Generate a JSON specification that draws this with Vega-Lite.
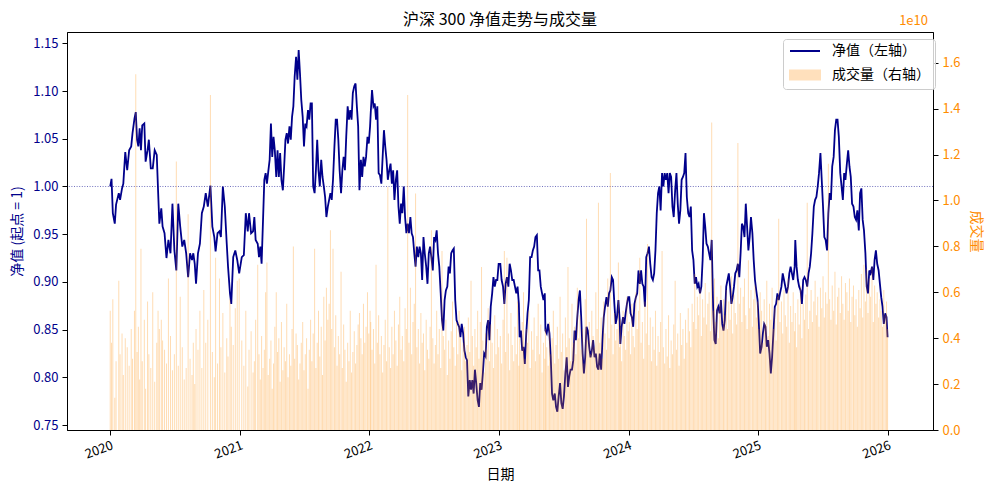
{
  "$schema": "https://vega.github.io/schema/vega-lite/v6.json",
  "description": "沪深 300 净值走势与成交量",
  "width": 866,
  "height": 398,
  "autosize": {"type": "none"},
  "padding": {"left": 67, "top": 32, "right": 56, "bottom": 59},
  "title": {"text": "沪深 300 净值走势与成交量", "fontSize": 16, "fontWeight": "normal", "color": "black", "anchor": "middle", "offset": -13},
  "config": {
    "font": "Noto Sans CJK SC",
    "view": {"stroke": "black", "strokeWidth": 1},
    "axis": {"grid": false, "domainColor": "black", "tickColor": "black", "tickSize": 5, "labelPadding": 4, "labelFontSize": 13, "titleFontSize": 14, "titleFontWeight": "normal"}
  },
  "data": {
    "values": [
      {"t":2020.000,"v":1.000,"q":0.52},{"t":2020.010,"v":1.008,"q":0.38},{"t":2020.020,"v":0.972,"q":0.57},{"t":2020.035,"v":0.961,"q":0.14},{"t":2020.045,"v":0.981,"q":0.30},{"t":2020.066,"v":0.993,"q":0.65},{"t":2020.076,"v":0.986,"q":0.33},{"t":2020.091,"v":0.998,"q":0.42},{"t":2020.101,"v":1.003,"q":0.24},{"t":2020.116,"v":1.036,"q":0.40},{"t":2020.131,"v":1.017,"q":0.36},{"t":2020.146,"v":1.038,"q":0.28},{"t":2020.162,"v":1.042,"q":0.44},{"t":2020.172,"v":1.056,"q":0.31},{"t":2020.187,"v":1.071,"q":0.52},{"t":2020.197,"v":1.078,"q":1.55},{"t":2020.207,"v":1.049,"q":0.34},{"t":2020.217,"v":1.042,"q":0.45},{"t":2020.227,"v":1.061,"q":0.22},{"t":2020.237,"v":1.038,"q":0.79},{"t":2020.247,"v":1.064,"q":0.30},{"t":2020.263,"v":1.066,"q":0.48},{"t":2020.273,"v":1.026,"q":0.18},{"t":2020.288,"v":1.038,"q":0.56},{"t":2020.298,"v":1.049,"q":0.33},{"t":2020.313,"v":1.019,"q":0.27},{"t":2020.328,"v":1.019,"q":0.60},{"t":2020.343,"v":1.038,"q":0.21},{"t":2020.359,"v":1.033,"q":0.38},{"t":2020.369,"v":0.996,"q":0.52},{"t":2020.379,"v":0.961,"q":0.44},{"t":2020.394,"v":0.977,"q":0.48},{"t":2020.404,"v":0.958,"q":0.39},{"t":2020.419,"v":0.951,"q":0.35},{"t":2020.434,"v":0.925,"q":0.29},{"t":2020.449,"v":0.944,"q":0.66},{"t":2020.465,"v":0.930,"q":0.41},{"t":2020.480,"v":0.982,"q":0.26},{"t":2020.495,"v":0.933,"q":0.33},{"t":2020.510,"v":0.912,"q":1.17},{"t":2020.525,"v":0.982,"q":0.28},{"t":2020.540,"v":0.958,"q":0.58},{"t":2020.556,"v":0.937,"q":0.36},{"t":2020.571,"v":0.944,"q":0.22},{"t":2020.586,"v":0.930,"q":0.27},{"t":2020.601,"v":0.905,"q":0.94},{"t":2020.616,"v":0.930,"q":0.31},{"t":2020.631,"v":0.923,"q":0.24},{"t":2020.641,"v":0.930,"q":0.38},{"t":2020.652,"v":0.919,"q":0.20},{"t":2020.662,"v":0.898,"q":0.44},{"t":2020.677,"v":0.930,"q":0.35},{"t":2020.692,"v":0.940,"q":0.52},{"t":2020.707,"v":0.972,"q":0.27},{"t":2020.722,"v":0.979,"q":0.61},{"t":2020.737,"v":0.993,"q":0.38},{"t":2020.753,"v":0.979,"q":0.48},{"t":2020.773,"v":1.001,"q":1.46},{"t":2020.788,"v":0.958,"q":0.34},{"t":2020.803,"v":0.947,"q":0.23},{"t":2020.813,"v":0.932,"q":0.75},{"t":2020.828,"v":0.951,"q":0.29},{"t":2020.843,"v":0.953,"q":0.66},{"t":2020.854,"v":0.947,"q":0.36},{"t":2020.869,"v":1.000,"q":0.51},{"t":2020.884,"v":0.979,"q":0.25},{"t":2020.899,"v":0.940,"q":0.40},{"t":2020.909,"v":0.916,"q":0.32},{"t":2020.924,"v":0.888,"q":0.57},{"t":2020.934,"v":0.877,"q":0.45},{"t":2020.949,"v":0.926,"q":0.37},{"t":2020.965,"v":0.933,"q":0.53},{"t":2020.980,"v":0.923,"q":0.65},{"t":2020.995,"v":0.909,"q":0.66},
      {"t":2021.015,"v":0.926,"q":0.39},{"t":2021.031,"v":0.928,"q":0.28},{"t":2021.046,"v":0.972,"q":0.52},{"t":2021.061,"v":0.953,"q":0.19},{"t":2021.071,"v":0.972,"q":0.35},{"t":2021.087,"v":0.951,"q":0.43},{"t":2021.102,"v":0.953,"q":0.25},{"t":2021.112,"v":0.968,"q":0.30},{"t":2021.122,"v":0.944,"q":0.48},{"t":2021.138,"v":0.940,"q":0.72},{"t":2021.148,"v":0.926,"q":0.33},{"t":2021.158,"v":0.937,"q":0.22},{"t":2021.168,"v":0.919,"q":0.41},{"t":2021.179,"v":0.965,"q":0.27},{"t":2021.189,"v":1.007,"q":0.35},{"t":2021.199,"v":1.014,"q":0.60},{"t":2021.209,"v":1.003,"q":0.73},{"t":2021.219,"v":1.015,"q":0.24},{"t":2021.230,"v":1.028,"q":0.31},{"t":2021.240,"v":1.066,"q":0.39},{"t":2021.250,"v":1.031,"q":0.18},{"t":2021.260,"v":1.052,"q":0.29},{"t":2021.270,"v":1.038,"q":0.45},{"t":2021.281,"v":1.010,"q":0.60},{"t":2021.291,"v":1.038,"q":0.34},{"t":2021.301,"v":1.010,"q":0.40},{"t":2021.311,"v":1.035,"q":0.21},{"t":2021.321,"v":1.007,"q":0.47},{"t":2021.332,"v":0.996,"q":0.26},{"t":2021.342,"v":1.021,"q":0.36},{"t":2021.352,"v":1.049,"q":0.30},{"t":2021.362,"v":1.056,"q":0.55},{"t":2021.372,"v":1.045,"q":0.23},{"t":2021.383,"v":1.063,"q":0.33},{"t":2021.393,"v":1.049,"q":0.28},{"t":2021.403,"v":1.073,"q":0.44},{"t":2021.413,"v":1.084,"q":0.80},{"t":2021.423,"v":1.115,"q":0.31},{"t":2021.434,"v":1.136,"q":0.42},{"t":2021.444,"v":1.112,"q":0.37},{"t":2021.454,"v":1.143,"q":0.22},{"t":2021.464,"v":1.119,"q":0.29},{"t":2021.474,"v":1.091,"q":0.38},{"t":2021.485,"v":1.073,"q":0.47},{"t":2021.495,"v":1.042,"q":0.26},{"t":2021.505,"v":1.066,"q":0.33},{"t":2021.515,"v":1.063,"q":0.40},{"t":2021.526,"v":1.080,"q":0.18},{"t":2021.536,"v":1.070,"q":0.35},{"t":2021.546,"v":1.087,"q":0.48},{"t":2021.556,"v":1.087,"q":0.30},{"t":2021.566,"v":1.000,"q":0.42},{"t":2021.577,"v":0.993,"q":0.79},{"t":2021.587,"v":1.017,"q":0.27},{"t":2021.597,"v":1.049,"q":0.38},{"t":2021.607,"v":1.017,"q":0.52},{"t":2021.617,"v":1.000,"q":0.32},{"t":2021.628,"v":1.028,"q":0.45},{"t":2021.638,"v":1.010,"q":0.24},{"t":2021.648,"v":1.000,"q":0.58},{"t":2021.658,"v":0.989,"q":0.39},{"t":2021.668,"v":0.968,"q":0.62},{"t":2021.679,"v":0.979,"q":0.48},{"t":2021.689,"v":0.986,"q":0.55},{"t":2021.699,"v":0.993,"q":0.87},{"t":2021.709,"v":0.986,"q":0.44},{"t":2021.719,"v":1.007,"q":0.79},{"t":2021.730,"v":1.042,"q":0.36},{"t":2021.740,"v":1.070,"q":0.50},{"t":2021.750,"v":1.070,"q":0.28},{"t":2021.760,"v":1.049,"q":0.41},{"t":2021.770,"v":1.017,"q":0.33},{"t":2021.781,"v":0.993,"q":0.69},{"t":2021.791,"v":1.017,"q":0.27},{"t":2021.801,"v":1.031,"q":0.46},{"t":2021.811,"v":1.017,"q":0.35},{"t":2021.821,"v":1.052,"q":0.21},{"t":2021.832,"v":1.084,"q":0.38},{"t":2021.842,"v":1.070,"q":0.30},{"t":2021.852,"v":1.080,"q":0.52},{"t":2021.862,"v":1.070,"q":0.25},{"t":2021.872,"v":1.098,"q":0.34},{"t":2021.883,"v":1.105,"q":0.43},{"t":2021.893,"v":1.108,"q":0.29},{"t":2021.903,"v":1.084,"q":0.37},{"t":2021.913,"v":1.063,"q":0.46},{"t":2021.923,"v":0.996,"q":0.51},{"t":2021.934,"v":1.028,"q":0.40},{"t":2021.944,"v":1.010,"q":0.33},{"t":2021.954,"v":1.031,"q":0.55},{"t":2021.964,"v":1.021,"q":0.38},{"t":2021.974,"v":1.031,"q":0.45},{"t":2021.985,"v":1.052,"q":0.60},{"t":2021.995,"v":1.045,"q":0.42},
      {"t":2022.005,"v":1.063,"q":0.52},{"t":2022.010,"v":1.077,"q":0.47},{"t":2022.020,"v":1.101,"q":0.35},{"t":2022.031,"v":1.084,"q":0.44},{"t":2022.041,"v":1.087,"q":0.29},{"t":2022.051,"v":1.070,"q":0.72},{"t":2022.061,"v":1.084,"q":0.38},{"t":2022.071,"v":1.014,"q":0.50},{"t":2022.081,"v":1.012,"q":0.33},{"t":2022.092,"v":1.003,"q":0.41},{"t":2022.102,"v":1.031,"q":0.25},{"t":2022.112,"v":1.059,"q":0.37},{"t":2022.122,"v":1.042,"q":0.48},{"t":2022.132,"v":1.028,"q":0.30},{"t":2022.142,"v":1.007,"q":1.06},{"t":2022.153,"v":1.017,"q":0.36},{"t":2022.163,"v":1.024,"q":0.27},{"t":2022.173,"v":1.003,"q":0.45},{"t":2022.183,"v":1.017,"q":0.33},{"t":2022.193,"v":0.986,"q":0.52},{"t":2022.204,"v":1.007,"q":0.39},{"t":2022.214,"v":1.017,"q":0.28},{"t":2022.224,"v":0.979,"q":0.46},{"t":2022.234,"v":0.961,"q":0.58},{"t":2022.244,"v":0.982,"q":0.35},{"t":2022.254,"v":0.972,"q":0.41},{"t":2022.265,"v":1.000,"q":0.30},{"t":2022.275,"v":0.968,"q":0.53},{"t":2022.285,"v":0.951,"q":0.44},{"t":2022.295,"v":0.961,"q":1.46},{"t":2022.305,"v":0.951,"q":0.38},{"t":2022.316,"v":0.968,"q":0.62},{"t":2022.326,"v":0.951,"q":0.33},{"t":2022.336,"v":0.947,"q":0.47},{"t":2022.346,"v":0.930,"q":0.55},{"t":2022.356,"v":0.916,"q":1.03},{"t":2022.366,"v":0.937,"q":0.36},{"t":2022.377,"v":0.926,"q":0.44},{"t":2022.387,"v":0.937,"q":0.29},{"t":2022.397,"v":0.930,"q":0.51},{"t":2022.407,"v":0.902,"q":0.38},{"t":2022.417,"v":0.947,"q":0.42},{"t":2022.427,"v":0.930,"q":0.26},{"t":2022.438,"v":0.916,"q":0.48},{"t":2022.448,"v":0.898,"q":0.35},{"t":2022.458,"v":0.930,"q":0.31},{"t":2022.468,"v":0.937,"q":0.45},{"t":2022.478,"v":0.926,"q":0.87},{"t":2022.489,"v":0.912,"q":0.40},{"t":2022.499,"v":0.947,"q":0.29},{"t":2022.509,"v":0.944,"q":0.37},{"t":2022.519,"v":0.954,"q":0.52},{"t":2022.529,"v":0.930,"q":0.33},{"t":2022.539,"v":0.916,"q":0.44},{"t":2022.550,"v":0.888,"q":0.27},{"t":2022.560,"v":0.860,"q":0.78},{"t":2022.570,"v":0.849,"q":0.41},{"t":2022.580,"v":0.881,"q":0.35},{"t":2022.590,"v":0.891,"q":0.48},{"t":2022.601,"v":0.895,"q":0.24},{"t":2022.611,"v":0.916,"q":0.39},{"t":2022.621,"v":0.909,"q":0.31},{"t":2022.631,"v":0.930,"q":0.43},{"t":2022.641,"v":0.933,"q":0.56},{"t":2022.651,"v":0.935,"q":0.36},{"t":2022.662,"v":0.881,"q":0.28},{"t":2022.672,"v":0.860,"q":0.47},{"t":2022.682,"v":0.856,"q":0.33},{"t":2022.692,"v":0.853,"q":0.52},{"t":2022.702,"v":0.842,"q":0.40},{"t":2022.712,"v":0.856,"q":0.26},{"t":2022.723,"v":0.846,"q":0.38},{"t":2022.733,"v":0.828,"q":0.45},{"t":2022.743,"v":0.821,"q":0.30},{"t":2022.753,"v":0.818,"q":0.37},{"t":2022.763,"v":0.780,"q":0.49},{"t":2022.774,"v":0.797,"q":0.34},{"t":2022.784,"v":0.787,"q":0.65},{"t":2022.794,"v":0.797,"q":0.41},{"t":2022.804,"v":0.783,"q":0.28},{"t":2022.814,"v":0.808,"q":0.44},{"t":2022.824,"v":0.794,"q":0.36},{"t":2022.835,"v":0.776,"q":0.52},{"t":2022.845,"v":0.769,"q":0.31},{"t":2022.855,"v":0.794,"q":0.47},{"t":2022.865,"v":0.787,"q":0.71},{"t":2022.875,"v":0.804,"q":0.39},{"t":2022.885,"v":0.825,"q":0.25},{"t":2022.896,"v":0.822,"q":0.42},{"t":2022.906,"v":0.853,"q":0.35},{"t":2022.916,"v":0.860,"q":0.53},{"t":2022.926,"v":0.839,"q":0.30},{"t":2022.936,"v":0.874,"q":0.46},{"t":2022.947,"v":0.888,"q":0.38},{"t":2022.957,"v":0.905,"q":0.27},{"t":2022.967,"v":0.895,"q":0.50},{"t":2022.977,"v":0.902,"q":0.33},{"t":2022.987,"v":0.902,"q":0.44},{"t":2022.997,"v":0.919,"q":0.36},
      {"t":2023.010,"v":0.919,"q":0.41},{"t":2023.020,"v":0.902,"q":0.29},{"t":2023.031,"v":0.895,"q":0.48},{"t":2023.041,"v":0.877,"q":0.78},{"t":2023.051,"v":0.898,"q":0.34},{"t":2023.061,"v":0.905,"q":0.75},{"t":2023.072,"v":0.895,"q":0.42},{"t":2023.082,"v":0.919,"q":0.26},{"t":2023.092,"v":0.912,"q":0.51},{"t":2023.102,"v":0.902,"q":0.37},{"t":2023.113,"v":0.902,"q":0.30},{"t":2023.123,"v":0.895,"q":0.45},{"t":2023.133,"v":0.888,"q":0.33},{"t":2023.143,"v":0.895,"q":0.56},{"t":2023.153,"v":0.877,"q":0.28},{"t":2023.159,"v":0.842,"q":0.40},{"t":2023.169,"v":0.849,"q":0.35},{"t":2023.179,"v":0.828,"q":0.47},{"t":2023.189,"v":0.832,"q":0.60},{"t":2023.199,"v":0.814,"q":0.31},{"t":2023.210,"v":0.846,"q":0.44},{"t":2023.220,"v":0.867,"q":0.38},{"t":2023.230,"v":0.881,"q":0.52},{"t":2023.240,"v":0.926,"q":0.27},{"t":2023.251,"v":0.926,"q":0.43},{"t":2023.261,"v":0.933,"q":0.35},{"t":2023.271,"v":0.937,"q":0.49},{"t":2023.281,"v":0.947,"q":0.30},{"t":2023.292,"v":0.949,"q":0.41},{"t":2023.302,"v":0.912,"q":0.55},{"t":2023.312,"v":0.912,"q":0.33},{"t":2023.322,"v":0.895,"q":0.46},{"t":2023.332,"v":0.888,"q":0.25},{"t":2023.343,"v":0.881,"q":0.38},{"t":2023.353,"v":0.888,"q":0.31},{"t":2023.358,"v":0.849,"q":0.44},{"t":2023.368,"v":0.846,"q":0.36},{"t":2023.379,"v":0.856,"q":0.28},{"t":2023.389,"v":0.846,"q":0.47},{"t":2023.399,"v":0.821,"q":0.33},{"t":2023.409,"v":0.783,"q":0.40},{"t":2023.419,"v":0.776,"q":0.52},{"t":2023.430,"v":0.783,"q":0.29},{"t":2023.440,"v":0.769,"q":0.37},{"t":2023.450,"v":0.764,"q":0.45},{"t":2023.460,"v":0.780,"q":0.31},{"t":2023.471,"v":0.794,"q":0.58},{"t":2023.481,"v":0.773,"q":0.34},{"t":2023.491,"v":0.767,"q":0.42},{"t":2023.501,"v":0.780,"q":0.26},{"t":2023.512,"v":0.804,"q":0.49},{"t":2023.522,"v":0.821,"q":0.36},{"t":2023.532,"v":0.790,"q":0.71},{"t":2023.542,"v":0.801,"q":0.40},{"t":2023.552,"v":0.808,"q":0.30},{"t":2023.563,"v":0.808,"q":0.55},{"t":2023.573,"v":0.818,"q":0.38},{"t":2023.583,"v":0.849,"q":0.45},{"t":2023.593,"v":0.839,"q":0.33},{"t":2023.604,"v":0.863,"q":0.62},{"t":2023.614,"v":0.881,"q":0.40},{"t":2023.624,"v":0.891,"q":0.50},{"t":2023.634,"v":0.863,"q":0.35},{"t":2023.645,"v":0.825,"q":0.44},{"t":2023.655,"v":0.804,"q":0.29},{"t":2023.665,"v":0.821,"q":0.57},{"t":2023.675,"v":0.853,"q":0.92},{"t":2023.685,"v":0.849,"q":0.39},{"t":2023.696,"v":0.832,"q":0.47},{"t":2023.706,"v":0.821,"q":0.33},{"t":2023.716,"v":0.828,"q":0.52},{"t":2023.726,"v":0.839,"q":0.41},{"t":2023.737,"v":0.821,"q":0.36},{"t":2023.747,"v":0.825,"q":0.60},{"t":2023.757,"v":0.811,"q":0.44},{"t":2023.767,"v":0.808,"q":0.99},{"t":2023.777,"v":0.825,"q":0.38},{"t":2023.788,"v":0.808,"q":0.49},{"t":2023.798,"v":0.839,"q":0.31},{"t":2023.808,"v":0.863,"q":0.56},{"t":2023.818,"v":0.874,"q":0.42},{"t":2023.829,"v":0.884,"q":0.35},{"t":2023.839,"v":0.874,"q":0.66},{"t":2023.849,"v":0.888,"q":0.40},{"t":2023.859,"v":0.891,"q":1.12},{"t":2023.870,"v":0.905,"q":0.46},{"t":2023.880,"v":0.902,"q":0.33},{"t":2023.890,"v":0.877,"q":0.51},{"t":2023.900,"v":0.856,"q":0.39},{"t":2023.910,"v":0.863,"q":0.44},{"t":2023.921,"v":0.881,"q":0.73},{"t":2023.931,"v":0.860,"q":0.36},{"t":2023.936,"v":0.835,"q":0.48},{"t":2023.946,"v":0.853,"q":0.30},{"t":2023.957,"v":0.863,"q":0.52},{"t":2023.967,"v":0.856,"q":0.41},{"t":2023.977,"v":0.867,"q":0.35},{"t":2023.987,"v":0.877,"q":0.58},{"t":2023.997,"v":0.884,"q":0.43},
      {"t":2024.005,"v":0.884,"q":0.47},{"t":2024.015,"v":0.867,"q":0.33},{"t":2024.025,"v":0.863,"q":0.55},{"t":2024.035,"v":0.853,"q":0.41},{"t":2024.045,"v":0.877,"q":0.36},{"t":2024.056,"v":0.884,"q":0.60},{"t":2024.066,"v":0.888,"q":0.44},{"t":2024.076,"v":0.912,"q":0.52},{"t":2024.086,"v":0.898,"q":0.75},{"t":2024.096,"v":0.912,"q":0.38},{"t":2024.106,"v":0.898,"q":0.47},{"t":2024.116,"v":0.895,"q":0.31},{"t":2024.126,"v":0.874,"q":0.56},{"t":2024.136,"v":0.926,"q":0.42},{"t":2024.146,"v":0.930,"q":0.81},{"t":2024.157,"v":0.937,"q":0.37},{"t":2024.167,"v":0.919,"q":0.49},{"t":2024.177,"v":0.905,"q":0.30},{"t":2024.187,"v":0.902,"q":0.45},{"t":2024.197,"v":0.909,"q":0.35},{"t":2024.207,"v":0.933,"q":0.52},{"t":2024.217,"v":0.972,"q":0.28},{"t":2024.227,"v":0.993,"q":0.41},{"t":2024.237,"v":1.000,"q":0.34},{"t":2024.247,"v":0.975,"q":0.47},{"t":2024.258,"v":1.014,"q":0.78},{"t":2024.268,"v":1.000,"q":0.36},{"t":2024.278,"v":1.014,"q":0.29},{"t":2024.288,"v":1.007,"q":0.44},{"t":2024.298,"v":1.014,"q":0.32},{"t":2024.308,"v":0.993,"q":0.50},{"t":2024.318,"v":1.014,"q":0.27},{"t":2024.328,"v":1.010,"q":0.39},{"t":2024.338,"v":0.979,"q":0.33},{"t":2024.348,"v":0.968,"q":0.46},{"t":2024.359,"v":0.996,"q":0.65},{"t":2024.369,"v":1.014,"q":0.35},{"t":2024.379,"v":0.982,"q":0.42},{"t":2024.389,"v":0.961,"q":0.28},{"t":2024.399,"v":0.975,"q":0.51},{"t":2024.409,"v":1.007,"q":0.37},{"t":2024.419,"v":1.010,"q":0.44},{"t":2024.429,"v":1.014,"q":0.31},{"t":2024.439,"v":1.035,"q":0.48},{"t":2024.449,"v":0.989,"q":0.38},{"t":2024.460,"v":0.972,"q":0.53},{"t":2024.470,"v":0.968,"q":0.43},{"t":2024.480,"v":0.979,"q":0.36},{"t":2024.490,"v":0.933,"q":0.55},{"t":2024.500,"v":0.923,"q":0.47},{"t":2024.510,"v":0.898,"q":0.68},{"t":2024.520,"v":0.905,"q":0.44},{"t":2024.530,"v":0.895,"q":0.58},{"t":2024.540,"v":0.898,"q":0.50},{"t":2024.551,"v":0.888,"q":0.62},{"t":2024.561,"v":0.895,"q":0.41},{"t":2024.571,"v":0.923,"q":0.57},{"t":2024.581,"v":0.972,"q":0.49},{"t":2024.591,"v":0.958,"q":0.64},{"t":2024.601,"v":0.940,"q":0.46},{"t":2024.611,"v":0.937,"q":0.55},{"t":2024.621,"v":0.930,"q":0.60},{"t":2024.631,"v":0.923,"q":0.43},{"t":2024.641,"v":0.944,"q":1.34},{"t":2024.652,"v":0.874,"q":0.52},{"t":2024.662,"v":0.839,"q":0.66},{"t":2024.672,"v":0.835,"q":0.47},{"t":2024.682,"v":0.870,"q":0.58},{"t":2024.692,"v":0.874,"q":0.40},{"t":2024.702,"v":0.867,"q":0.54},{"t":2024.712,"v":0.881,"q":0.63},{"t":2024.722,"v":0.856,"q":0.45},{"t":2024.732,"v":0.849,"q":0.57},{"t":2024.742,"v":0.860,"q":0.50},{"t":2024.753,"v":0.895,"q":0.61},{"t":2024.763,"v":0.902,"q":0.44},{"t":2024.773,"v":0.909,"q":0.56},{"t":2024.783,"v":0.895,"q":0.48},{"t":2024.793,"v":0.877,"q":0.67},{"t":2024.803,"v":0.884,"q":0.42},{"t":2024.813,"v":0.895,"q":0.59},{"t":2024.823,"v":0.909,"q":0.51},{"t":2024.833,"v":0.912,"q":0.46},{"t":2024.843,"v":0.919,"q":1.25},{"t":2024.854,"v":0.905,"q":0.55},{"t":2024.864,"v":0.930,"q":0.62},{"t":2024.874,"v":0.961,"q":0.47},{"t":2024.884,"v":0.958,"q":0.58},{"t":2024.894,"v":0.947,"q":0.66},{"t":2024.904,"v":0.982,"q":0.50},{"t":2024.914,"v":0.958,"q":0.44},{"t":2024.924,"v":0.933,"q":0.74},{"t":2024.934,"v":0.947,"q":0.53},{"t":2024.944,"v":0.968,"q":0.61},{"t":2024.955,"v":0.951,"q":0.45},{"t":2024.965,"v":0.923,"q":0.57},{"t":2024.975,"v":0.902,"q":0.63},{"t":2024.985,"v":0.891,"q":0.49},{"t":2024.995,"v":0.881,"q":0.56},
      {"t":2025.005,"v":0.856,"q":0.44},{"t":2025.015,"v":0.825,"q":0.60},{"t":2025.026,"v":0.832,"q":0.52},{"t":2025.036,"v":0.846,"q":0.38},{"t":2025.046,"v":0.856,"q":0.57},{"t":2025.056,"v":0.853,"q":0.46},{"t":2025.066,"v":0.832,"q":0.65},{"t":2025.077,"v":0.839,"q":0.41},{"t":2025.087,"v":0.825,"q":0.55},{"t":2025.097,"v":0.804,"q":0.48},{"t":2025.107,"v":0.821,"q":0.62},{"t":2025.117,"v":0.846,"q":0.44},{"t":2025.128,"v":0.874,"q":0.53},{"t":2025.138,"v":0.877,"q":0.39},{"t":2025.148,"v":0.888,"q":0.58},{"t":2025.158,"v":0.881,"q":0.92},{"t":2025.168,"v":0.888,"q":0.47},{"t":2025.179,"v":0.895,"q":0.56},{"t":2025.189,"v":0.909,"q":0.42},{"t":2025.199,"v":0.902,"q":0.61},{"t":2025.209,"v":0.895,"q":0.50},{"t":2025.219,"v":0.888,"q":0.45},{"t":2025.230,"v":0.895,"q":0.66},{"t":2025.240,"v":0.909,"q":0.38},{"t":2025.250,"v":0.916,"q":0.54},{"t":2025.260,"v":0.909,"q":0.47},{"t":2025.270,"v":0.902,"q":0.60},{"t":2025.281,"v":0.916,"q":0.43},{"t":2025.286,"v":0.944,"q":0.51},{"t":2025.296,"v":0.916,"q":0.36},{"t":2025.306,"v":0.902,"q":0.57},{"t":2025.316,"v":0.895,"q":0.46},{"t":2025.327,"v":0.891,"q":0.63},{"t":2025.337,"v":0.877,"q":0.40},{"t":2025.347,"v":0.902,"q":0.55},{"t":2025.357,"v":0.905,"q":0.48},{"t":2025.367,"v":0.902,"q":0.59},{"t":2025.378,"v":0.895,"q":0.99},{"t":2025.388,"v":0.909,"q":0.44},{"t":2025.398,"v":0.916,"q":0.52},{"t":2025.408,"v":0.930,"q":0.61},{"t":2025.418,"v":0.951,"q":0.47},{"t":2025.429,"v":0.979,"q":0.56},{"t":2025.439,"v":0.986,"q":0.65},{"t":2025.449,"v":0.989,"q":0.50},{"t":2025.459,"v":1.000,"q":0.58},{"t":2025.469,"v":1.014,"q":0.45},{"t":2025.480,"v":1.035,"q":0.62},{"t":2025.490,"v":1.007,"q":0.53},{"t":2025.500,"v":0.979,"q":0.67},{"t":2025.510,"v":0.947,"q":0.49},{"t":2025.520,"v":0.944,"q":0.60},{"t":2025.531,"v":0.933,"q":0.55},{"t":2025.541,"v":0.972,"q":1.16},{"t":2025.551,"v":0.993,"q":0.57},{"t":2025.561,"v":0.986,"q":0.48},{"t":2025.571,"v":1.021,"q":0.63},{"t":2025.582,"v":1.031,"q":0.52},{"t":2025.592,"v":1.059,"q":0.69},{"t":2025.602,"v":1.070,"q":0.46},{"t":2025.612,"v":1.070,"q":0.58},{"t":2025.622,"v":1.052,"q":0.62},{"t":2025.633,"v":1.014,"q":0.51},{"t":2025.643,"v":1.000,"q":0.67},{"t":2025.653,"v":0.986,"q":0.55},{"t":2025.663,"v":1.014,"q":0.48},{"t":2025.673,"v":1.007,"q":0.64},{"t":2025.684,"v":1.024,"q":0.60},{"t":2025.694,"v":1.038,"q":0.52},{"t":2025.704,"v":1.021,"q":0.66},{"t":2025.714,"v":1.010,"q":0.47},{"t":2025.724,"v":0.982,"q":0.58},{"t":2025.735,"v":0.979,"q":0.63},{"t":2025.745,"v":0.968,"q":0.50},{"t":2025.755,"v":0.965,"q":0.57},{"t":2025.765,"v":0.975,"q":0.45},{"t":2025.776,"v":0.954,"q":0.61},{"t":2025.786,"v":0.993,"q":0.53},{"t":2025.796,"v":0.998,"q":0.68},{"t":2025.806,"v":0.965,"q":0.49},{"t":2025.816,"v":0.954,"q":0.72},{"t":2025.827,"v":0.930,"q":0.56},{"t":2025.837,"v":0.895,"q":0.70},{"t":2025.847,"v":0.888,"q":0.51},{"t":2025.857,"v":0.912,"q":0.66},{"t":2025.867,"v":0.909,"q":0.58},{"t":2025.878,"v":0.916,"q":0.71},{"t":2025.888,"v":0.902,"q":0.47},{"t":2025.898,"v":0.923,"q":0.63},{"t":2025.908,"v":0.933,"q":0.55},{"t":2025.918,"v":0.919,"q":0.60},{"t":2025.929,"v":0.912,"q":0.49},{"t":2025.939,"v":0.898,"q":0.57},{"t":2025.949,"v":0.884,"q":0.52},{"t":2025.959,"v":0.874,"q":0.45},{"t":2025.969,"v":0.856,"q":0.61},{"t":2025.980,"v":0.867,"q":0.50},{"t":2025.990,"v":0.863,"q":0.56},{"t":2025.998,"v":0.842,"q":0.44}
    ]
  },
  "layer": [
    {
      "layer": [
        {
          "data": {"values": [{"ref": 1}]},
          "mark": {"type": "rule", "color": "#00008B", "strokeWidth": 0.8, "strokeDash": [1, 1.6], "opacity": 0.7},
          "encoding": {
            "y": {"field": "ref", "type": "quantitative", "title": "净值 (起点 = 1)"}
          }
        },
        {
          "mark": {"type": "line", "strokeWidth": 1.8},
          "encoding": {
            "x": {
              "field": "t", "type": "quantitative", "title": "日期",
              "scale": {"domain": [2019.705, 2026.31], "nice": false, "zero": false},
              "axis": {"values": [2020, 2021, 2022, 2023, 2024, 2025, 2026], "format": "d", "labelAngle": -20, "labelAlign": "right", "labelBaseline": "top", "labelColor": "black", "titlePadding": 6, "titleColor": "black"}
            },
            "y": {
              "field": "v", "type": "quantitative", "title": "净值 (起点 = 1)",
              "scale": {"domain": [0.7448, 1.1619], "nice": false, "zero": false},
              "axis": {"values": [0.75, 0.8, 0.85, 0.9, 0.95, 1.0, 1.05, 1.1, 1.15], "format": ".2f", "labelColor": "#00008B", "titleColor": "#00008B", "titlePadding": 8}
            },
            "color": {
              "datum": "净值（左轴）",
              "scale": {"domain": ["净值（左轴）", "成交量（右轴）"], "range": ["#00008B", "#FF8C00"]},
              "legend": {
                "title": null, "orient": "none", "legendX": 716, "legendY": 7,
                "padding": 5, "rowPadding": 8, "strokeColor": "#cccccc", "fillColor": "rgba(255,255,255,0.8)", "cornerRadius": 3,
                "labelFontSize": 14, "labelColor": "black", "labelOffset": 30, "symbolSize": 100,
                "encode": {
                  "symbols": {
                    "update": {
                      "shape": {"signal": "datum.value === '净值（左轴）' ? 'M-1,0H5' : 'M-1,-0.9H5V0.9H-1Z'"},
                      "fill": {"signal": "datum.value === '净值（左轴）' ? 'transparent' : '#FF8C00'"},
                      "stroke": {"signal": "datum.value === '净值（左轴）' ? '#00008B' : 'transparent'"},
                      "strokeWidth": {"value": 2},
                      "opacity": {"signal": "datum.value === '净值（左轴）' ? 1 : 0.26"},
                      "fillOpacity": {"value": 1},
                      "strokeOpacity": {"value": 1}
                    }
                  }
                }
              }
            }
          }
        }
      ]
    },
    {
      "layer": [
        {
          "mark": {"type": "bar", "width": 1, "opacity": 0.3},
          "encoding": {
            "x": {"field": "t", "type": "quantitative", "title": "日期"},
            "y": {
              "field": "q", "type": "quantitative", "title": "成交量",
              "scale": {"domain": [0, 1.734], "nice": false},
              "axis": {"orient": "right", "values": [0, 0.2, 0.4, 0.6, 0.8, 1.0, 1.2, 1.4, 1.6], "format": ".1f", "labelColor": "#FF8C00", "titleColor": "#FF8C00", "titlePadding": 8}
            },
            "color": {
              "datum": "成交量（右轴）",
              "legend": {
                "title": null, "orient": "none", "legendX": 716, "legendY": 7,
                "padding": 5, "rowPadding": 8, "strokeColor": "#cccccc", "fillColor": "rgba(255,255,255,0.8)", "cornerRadius": 3,
                "labelFontSize": 14, "labelColor": "black", "labelOffset": 30, "symbolSize": 100,
                "encode": {
                  "symbols": {
                    "update": {
                      "shape": {"signal": "datum.value === '净值（左轴）' ? 'M-1,0H5' : 'M-1,-0.9H5V0.9H-1Z'"},
                      "fill": {"signal": "datum.value === '净值（左轴）' ? 'transparent' : '#FF8C00'"},
                      "stroke": {"signal": "datum.value === '净值（左轴）' ? '#00008B' : 'transparent'"},
                      "strokeWidth": {"value": 2},
                      "opacity": {"signal": "datum.value === '净值（左轴）' ? 1 : 0.26"},
                      "fillOpacity": {"value": 1},
                      "strokeOpacity": {"value": 1}
                    }
                  }
                }
              }
            }
          }
        },
        {
          "data": {"values": [{"s": "1e10"}]},
          "mark": {"type": "text", "align": "right", "baseline": "bottom", "dx": 0, "dy": -4, "fontSize": 13, "color": "#FF8C00"},
          "encoding": {
            "x": {"datum": 2026.31},
            "y": {"datum": 1.734},
            "text": {"field": "s"}
          }
        }
      ]
    }
  ],
  "resolve": {"scale": {"y": "independent"}, "axis": {"y": "independent"}}
}
